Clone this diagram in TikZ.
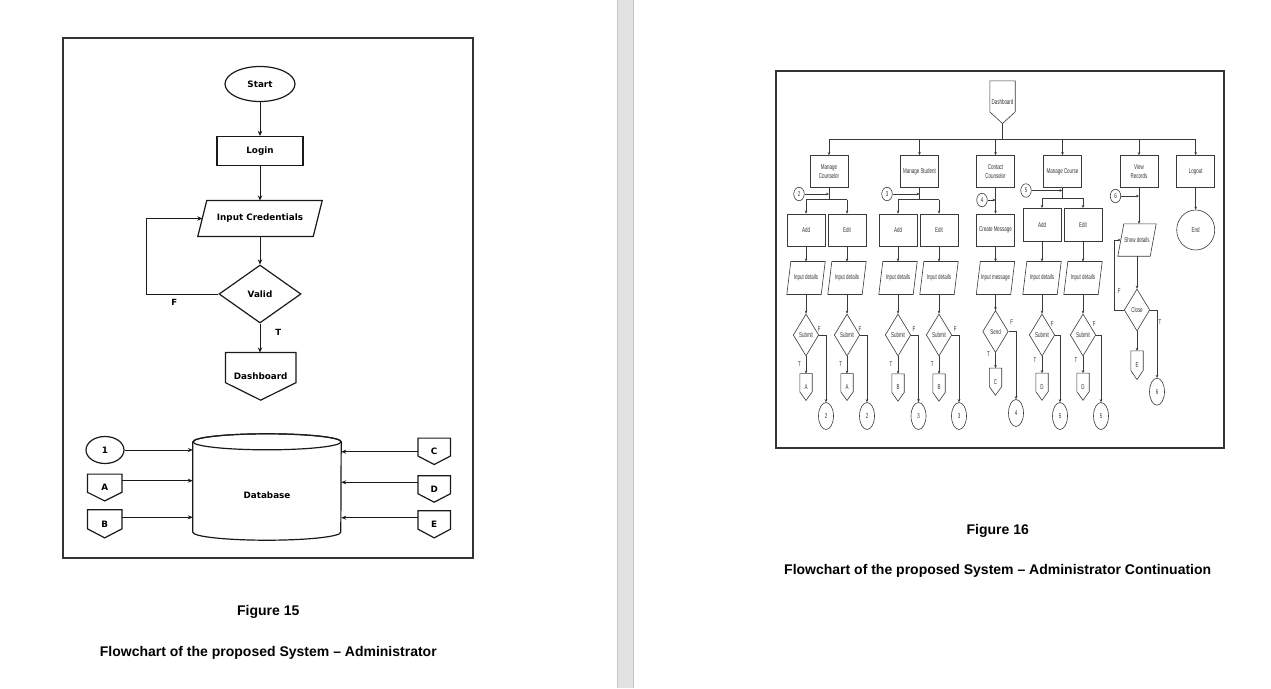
\documentclass[tikz,border=0pt]{standalone}
\usepackage{fontspec}
\setmainfont{Liberation Sans}
\newfontfamily\lfont{DejaVu Sans}
\newfontfamily\rfont[FakeStretch=0.64]{Liberation Sans}
\usetikzlibrary{shapes.geometric,arrows.meta,calc}
\definecolor{lline}{HTML}{1A1A1A}
\definecolor{rline}{HTML}{3A3A3A}
\definecolor{rtext}{HTML}{333333}
\definecolor{band}{HTML}{E3E2E0}
\definecolor{bandedge}{HTML}{C6C6C6}
\definecolor{framec}{HTML}{333333}
\newcommand{\myoffpg}[3]{\draw[#3] (#1.north west) -- (#1.north east) -- ($(#1.north east)!#2!(#1.south east)$) -- (#1.south) -- ($(#1.north west)!#2!(#1.south west)$) -- cycle;}
\newcommand{\mypara}[3]{\draw[#3] ([xshift=#2pt]#1.north west) -- (#1.north east) -- ([xshift=-#2pt]#1.south east) -- (#1.south west) -- cycle;}
\tikzset{
  lshape/.style={draw=lline, line width=1.2pt, inner sep=0pt, font=\lfont\bfseries\fontsize{8.8}{10}\selectfont},
  lghost/.style={inner sep=0pt, font=\lfont\bfseries\fontsize{8.8}{10}\selectfont},
  lstroke/.style={draw=lline, line width=1.2pt},
  arrL/.style={draw=lline, line width=0.9pt, -{Stealth[length=5pt,width=4.5pt]}},
  arrLb/.style={draw=lline, line width=0.7pt, -{Stealth[length=5pt,width=4pt]}},
  rshape/.style={draw=rline, line width=0.6pt, inner sep=0pt, text=rtext, align=center, font=\rfont\fontsize{7}{9}\selectfont},
  rghost/.style={inner sep=0pt, text=rtext, align=center, font=\rfont\fontsize{7}{9}\selectfont},
  rbox/.style={rshape, rectangle, minimum width=38, minimum height=32},
  rdia/.style={rshape, diamond, minimum width=25.5, minimum height=42},
  rcon/.style={rshape, ellipse, minimum width=15, minimum height=27},
  rsmall/.style={rshape, ellipse, minimum width=10.5, minimum height=13.5},
  rstroke/.style={draw=rline, line width=0.6pt},
  arrR/.style={draw=rline, line width=0.6pt, -{Stealth[length=3pt,width=2.6pt]}},
  lnR/.style={draw=rline, line width=0.6pt},
  rlab/.style={inner sep=0pt, text=rtext, font=\rfont\fontsize{7}{8}\selectfont},
  llab/.style={inner sep=0pt, font=\lfont\bfseries\fontsize{8.5}{10}\selectfont},
  captxt/.style={inner sep=0pt, font=\bfseries\fontsize{14}{16}\selectfont}
}
\begin{document}
\begin{tikzpicture}[x=1pt,y=-1pt]
\useasboundingbox (0,0) rectangle (1271,688);
\fill[white] (0,0) rectangle (1271,688);
% page gap band
\fill[band] (617.3,0) rectangle (633.7,688);
\draw[bandedge, line width=0.8pt] (617.7,0) -- (617.7,688) (633.3,0) -- (633.3,688);

% ================= LEFT FIGURE =================
\draw[framec, line width=1.4pt] (63,38) rectangle (473,558);
\node[lshape, ellipse, minimum width=70, minimum height=35] (start) at (260,84) {Start};
\node[lshape, rectangle, minimum width=86, minimum height=29] (login) at (260,151) {Login};
\node[lghost, minimum width=124, minimum height=35.6] (cred) at (260,218.5) {Input Credentials};
\mypara{cred}{9}{lstroke}
\node[lshape, diamond, minimum width=82, minimum height=58] (valid) at (260,294) {Valid};
\node[lghost, minimum width=70, minimum height=47.3] (dashL) at (260.7,376.3) {Dashboard};
\myoffpg{dashL}{0.634}{lstroke}

\draw[arrL] (start) -- (login);
\draw[arrL] (login) -- (cred);
\draw[arrL] (cred) -- (valid);
\draw[arrL] (valid) -- (dashL.north -| valid.south);
\draw[arrL] (valid.west) -- ++(-72,0) |- ([xshift=4.5pt]cred.west);
\node[llab] (lF) at (174.3,302.7) {F};
\node[llab] (lT) at (278.3,332.7) {T};

% database
\node[lghost, minimum width=148, minimum height=106] (db) at (267,487) {};
\draw[lstroke] ([yshift=-8pt]db.north west) -- ([yshift=8pt]db.south west)
  arc[start angle=180, end angle=360, x radius=74pt, y radius=8pt]
  -- ([yshift=-8pt]db.north east)
  arc[start angle=0, end angle=180, x radius=74pt, y radius=8pt];
\draw[lstroke] ([yshift=-8pt]db.north) ellipse [x radius=74pt, y radius=8pt];
\node[lghost] (dbl) at (267,495) {Database};

\node[lshape, ellipse, minimum width=38, minimum height=27] (one) at (105,450) {1};
\node[lghost, minimum width=34, minimum height=26.4] (pA) at (104.7,487.5) {A};
\node[lghost, minimum width=34, minimum height=27.7] (pB) at (104.7,523.8) {B};
\node[lghost, minimum width=32, minimum height=26] (pC) at (434.2,451.3) {C};
\node[lghost, minimum width=32, minimum height=26] (pD) at (434.2,489) {D};
\node[lghost, minimum width=32, minimum height=26.7] (pE) at (434.2,524.3) {E};
\foreach \n in {pA,pB,pC,pD,pE} {\myoffpg{\n}{0.68}{lstroke}}

\draw[arrLb] (one.east) -- (db.west |- one.east);
\draw[arrLb] (pA.east |- 0,480.7) -- (db.west |- 0,480.7);
\draw[arrLb] (pB.east |- 0,517.3) -- (db.west |- 0,517.3);
\draw[arrLb] (pC.west |- 0,451.7) -- (db.east |- 0,451.7);
\draw[arrLb] (pD.west |- 0,482.3) -- (db.east |- 0,482.3);
\draw[arrLb] (pE.west |- 0,517.7) -- (db.east |- 0,517.7);

\node[captxt] (fig15) at (268.3,612) {Figure 15};
\node[captxt] (cap15) at (268.3,653) {Flowchart of the proposed System -- Administrator};

% ================= RIGHT FIGURE =================
\draw[framec, line width=1.3pt] (776,71) rectangle (1224,448);
\node[rghost, minimum width=25, minimum height=42.3] (dashR) at (1002.5,102.2) {Dashboard};
\myoffpg{dashR}{0.726}{rstroke}

% row 1
\node[rbox] (mc) at (829,171.5) {Manage\\Counselor};
\node[rbox] (ms) at (919.5,171.5) {Manage Student};
\node[rbox] (cc) at (995.5,171.5) {Contact\\Counselor};
\node[rbox] (mco) at (1062.5,171.5) {Manage Course};
\node[rbox] (vr) at (1139,171.5) {View\\Records};
\node[rbox] (lo) at (1195.7,171.5) {Logout};

\coordinate (bus) at (0,139.3);
\draw[lnR] (dashR.south) -- (dashR.south |- bus);
\draw[lnR] (mc.north |- bus) -- (lo.north |- bus);
\foreach \n in {mc,ms,cc,mco,vr,lo} {\draw[arrR] (\n.north |- bus) -- (\n.north);}

% row 2
\node[rbox] (mcA) at (806,230) {Add};
\node[rbox] (mcE) at (847,230) {Edit};
\node[rbox] (msA) at (898,230) {Add};
\node[rbox] (msE) at (939,230) {Edit};
\node[rbox] (cm) at (995.5,230) {Create Message};
\node[rbox, minimum height=33.4] (coA) at (1042,225) {Add};
\node[rbox, minimum height=33.4] (coE) at (1083,225) {Edit};
\node[rghost, minimum width=38, minimum height=32] (show) at (1137,240) {Show details};
\mypara{show}{6}{rstroke}
\node[rshape, ellipse, minimum width=38, minimum height=40] (endc) at (1195.7,230) {End};

% small connectors
\node[rsmall] (n2) at (799,194) {2};
\node[rsmall] (n3) at (887,194) {3};
\node[rsmall] (n4) at (982,200) {4};
\node[rsmall] (n5) at (1026,190.5) {5};
\node[rsmall] (n6) at (1115.5,196) {6};

\draw[lnR] (mc.south) -- (mc.south |- 0,199.5);
\draw[lnR] (mcA.north |- 0,199.5) -- (mcE.north |- 0,199.5);
\draw[arrR] (mcA.north |- 0,199.5) -- (mcA.north);
\draw[arrR] (mcE.north |- 0,199.5) -- (mcE.north);
\draw[arrR] (n2.east) -- (n2.east -| mc.south);

\draw[lnR] (ms.south) -- (ms.south |- 0,199.5);
\draw[lnR] (msA.north |- 0,199.5) -- (msE.north |- 0,199.5);
\draw[arrR] (msA.north |- 0,199.5) -- (msA.north);
\draw[arrR] (msE.north |- 0,199.5) -- (msE.north);
\draw[arrR] (n3.east) -- (n3.east -| ms.south);

\draw[arrR] (cc.south) -- (cm.north);
\draw[arrR] (n4.east) -- (n4.east -| cc.south);

\draw[lnR] (mco.south) -- (mco.south |- 0,198.3);
\draw[lnR] (coA.north |- 0,198.3) -- (coE.north |- 0,198.3);
\draw[arrR] (coA.north |- 0,198.3) -- (coA.north);
\draw[arrR] (coE.north |- 0,198.3) -- (coE.north);
\draw[arrR] (n5.east) -- (n5.east -| mco.south);

\draw[arrR] (vr.south) -- (vr.south |- show.north);
\draw[arrR] (n6.east) -- (n6.east -| vr.south);
\draw[arrR] (lo.south) -- (endc.north);

% row 3 inputs
\foreach \n/\x/\t in {i1/806/Input details, i2/847/Input details, i3/898/Input details, i4/939/Input details, i5/995.5/Input message, i6/1042/Input details, i7/1083/Input details} {
  \node[rghost, minimum width=38, minimum height=32.6] (\n) at (\x,278) {\t};
  \mypara{\n}{4}{rstroke}
}
\draw[arrR] (mcA.south) -- (i1.north);
\draw[arrR] (mcE.south) -- (i2.north);
\draw[arrR] (msA.south) -- (i3.north);
\draw[arrR] (msE.south) -- (i4.north);
\draw[arrR] (cm.south) -- (i5.north);
\draw[arrR] (coA.south) -- (i6.north);
\draw[arrR] (coE.south) -- (i7.north);

% diamonds
\node[rdia] (d1) at (806,335) {Submit};
\node[rdia] (d2) at (847,335) {Submit};
\node[rdia] (d3) at (898,335) {Submit};
\node[rdia] (d4) at (939,335) {Submit};
\node[rdia] (d5) at (995.5,331.5) {Send};
\node[rdia] (d6) at (1042,335) {Submit};
\node[rdia] (d7) at (1083,335) {Submit};
\node[rdia] (dc) at (1137,310) {Close};
\foreach \a/\b in {i1/d1,i2/d2,i3/d3,i4/d4,i5/d5,i6/d6,i7/d7} {\draw[arrR] (\a.south) -- (\b.north);}
\draw[arrR] (show.south) -- (dc.north);
\draw[arrR] (dc.west) -- ++(-10,0) |- ([xshift=3pt]show.west);

% bottom connectors
\node[rcon] (r1) at (826,416) {2};
\node[rcon] (r2) at (867,416) {2};
\node[rcon] (r3) at (918.5,416) {3};
\node[rcon] (r4) at (959,416) {3};
\node[rcon] (r5) at (1016,413) {4};
\node[rcon] (r6) at (1060,416) {5};
\node[rcon] (r7) at (1101,416) {5};
\node[rcon] (r8) at (1157,391.7) {6};
\foreach \a/\b in {d1/r1,d2/r2,d3/r3,d4/r4,d5/r5,d6/r6,d7/r7,dc/r8} {\draw[arrR] (\a.east) -| (\b.north);}

% off-page connectors
\node[rghost, minimum width=12, minimum height=26.5] (p1) at (806,387) {A};
\node[rghost, minimum width=12, minimum height=26.5] (p2) at (847,387) {A};
\node[rghost, minimum width=12, minimum height=27] (p3) at (898,387.5) {B};
\node[rghost, minimum width=12, minimum height=27] (p4) at (939,387.5) {B};
\node[rghost, minimum width=12, minimum height=26.7] (p5) at (995.5,381.7) {C};
\node[rghost, minimum width=12, minimum height=26.7] (p6) at (1042,386.7) {D};
\node[rghost, minimum width=12, minimum height=26.7] (p7) at (1083,386.7) {D};
\node[rghost, minimum width=12, minimum height=28.3] (p8) at (1137,365.2) {E};
\foreach \n in {p1,p2,p3,p4,p5,p6,p7,p8} {\myoffpg{\n}{0.68}{rstroke}}
\foreach \a/\b in {d1/p1,d2/p2,d3/p3,d4/p4,d5/p5,d6/p6,d7/p7,dc/p8} {\draw[arrR] (\a.south) -- (\b.north);}

% T/F labels
\node[rlab] (f1) at (819.3,329) {F};
\node[rlab] (f2) at (860,329) {F};
\node[rlab] (f3) at (914,329) {F};
\node[rlab] (f4) at (955.3,329) {F};
\node[rlab] (f5) at (1011.7,322.3) {F};
\node[rlab] (f6) at (1052.3,324.3) {F};
\node[rlab] (f7) at (1094.3,324.3) {F};
\node[rlab] (f8) at (1119.3,290.7) {F};
\node[rlab] (t1) at (799.5,364) {T};
\node[rlab] (t2) at (840.7,364) {T};
\node[rlab] (t3) at (891,364) {T};
\node[rlab] (t4) at (932.3,364) {T};
\node[rlab] (t5) at (988.5,354.3) {T};
\node[rlab] (t6) at (1035,360) {T};
\node[rlab] (t7) at (1076,360) {T};
\node[rlab] (t8) at (1160,322.3) {T};

\node[captxt] (fig16) at (997.7,531.3) {Figure 16};
\node[captxt] (cap16) at (997.7,571) {Flowchart of the proposed System -- Administrator Continuation};
\end{tikzpicture}
\end{document}
